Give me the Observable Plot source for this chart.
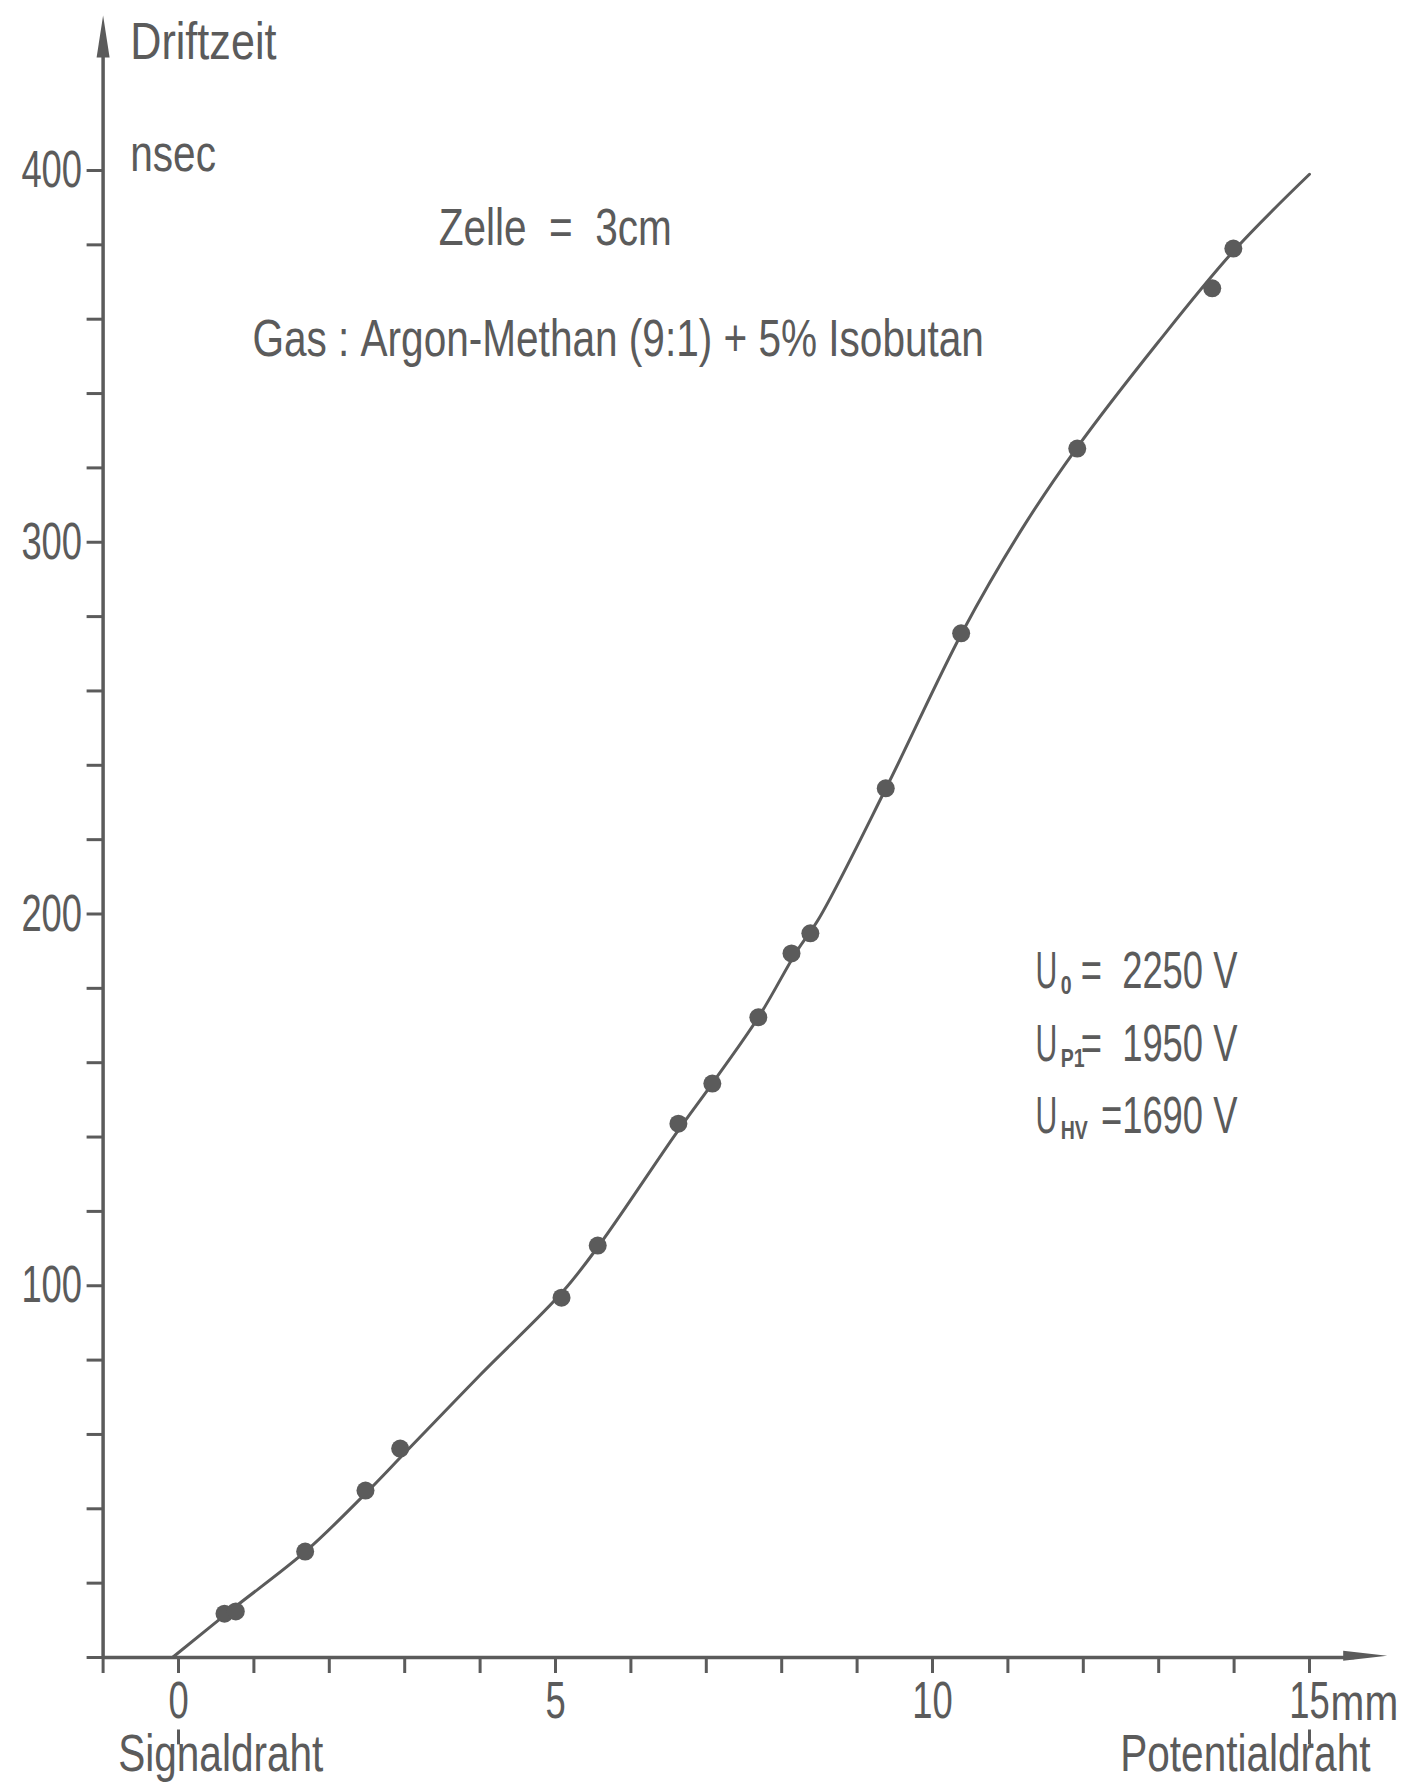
<!DOCTYPE html>
<html>
<head>
<meta charset="utf-8">
<script src="https://cdn.jsdelivr.net/npm/d3@7"></script>
<script src="https://cdn.jsdelivr.net/npm/@observablehq/plot@0.6"></script>
<style>
  html, body { margin: 0; padding: 0; background: #fff; overflow: hidden; }
  #chart svg { display: block; }
</style>
</head>
<body>
<div id="chart"></div>
<script>
// ---- measured points (distance in mm, drift time in ns) ----
const distance = [0.61, 0.76, 1.68, 2.48, 2.94, 5.08, 5.56, 6.63, 7.08, 7.69, 8.13, 8.38, 9.38, 10.38, 11.92, 13.71, 13.99];
const driftTime = [11.8, 12.4, 28.5, 44.9, 56.2, 96.8, 110.8, 143.6, 154.4, 172.2, 189.4, 194.8, 233.8, 275.5, 325.2, 368.3, 379.0];

// ---- hand-drawn fit curve ----
const curveDistance = [-0.08, 0.7, 1.7, 2.5, 3.0, 4.0, 5.1, 5.6, 6.6, 7.1, 7.7, 8.2, 8.5, 9.4, 10.4, 11.2, 11.9, 13.0, 14.0, 15.0];
const curveTime = [0, 12.8, 28.8, 44.5, 55, 76, 98.5, 111.5, 141, 155, 172.5, 190, 199, 234.5, 276, 304, 325, 354, 378.5, 399];

// ---- axes ----
const yTicks = d3.range(0, 401, 20);
const yTickLabels = [100, 200, 300, 400];
const xTicks = d3.range(-1, 16, 1);
const xTickLabels = [0, 5, 10, 15];

// ---- texts ----
const yTitle = "Driftzeit";
const yUnit = "nsec";
const xUnit = "mm";
const cellText = "Zelle\u00a0\u00a0=\u00a0\u00a03cm";
const gasText = "Gas\u00a0:\u00a0Argon-Methan\u00a0(9:1)\u00a0+\u00a05%\u00a0Isobutan";
const leftEndLabel = "Signaldraht";
const rightEndLabel = "Potentialdraht";
const voltageSymbol = ["U", "U", "U"];
const voltageSub = ["0", "P1", "HV"];
const voltageValue = ["=\u00a0\u00a02250\u00a0V", "=\u00a0\u00a01950\u00a0V", "=1690\u00a0V"];

const points = distance.map((x, i) => ({x, y: driftTime[i]}));
const curve = curveDistance.map((x, i) => ({x, y: curveTime[i]}));
const volts = voltageSub.map((s, i) => ({sym: voltageSymbol[i], sub: s, val: voltageValue[i]}));

const C = "#5b5b5b";
const FS = 52;
const voltY = [180, 160.5, 141];

const arrowUp = {draw(ctx) { ctx.moveTo(0, 0); ctx.lineTo(6.5, 42); ctx.lineTo(-6.5, 42); ctx.closePath(); }};
const arrowRight = {draw(ctx) { ctx.moveTo(0, 0); ctx.lineTo(-44, 5); ctx.lineTo(-44, -5); ctx.closePath(); }};

const txt = (arr, opts) => Plot.text(arr, {text: d => d, fill: C, fontSize: FS, textAnchor: "start", lineAnchor: "bottom", ...opts});

const chart = Plot.plot({
  width: 1413,
  height: 1782,
  marginLeft: 102.6,
  marginRight: 28.6,
  marginTop: 21.3,
  marginBottom: 125,
  x: {domain: [-1, 16]},
  y: {domain: [0, 440]},
  style: {fontFamily: "'Liberation Sans', Arial, sans-serif", color: C, background: "#fff"},
  marks: [
    Plot.axisY({ticks: yTicks, tickSize: 16, tickPadding: 5, strokeWidth: 3, fontSize: FS, label: null,
      tickFormat: d => yTickLabels.includes(d) ? String(d) : ""}),
    Plot.axisX({ticks: xTicks, tickSize: 16, tickPadding: 8, strokeWidth: 3, fontSize: FS, label: null,
      tickFormat: d => xTickLabels.includes(d) ? String(d) : ""}),
    Plot.ruleX([-1], {y1: 0, y2: 436, stroke: C, strokeWidth: 3.5}),
    Plot.ruleY([0], {x1: -1, x2: 15.6, stroke: C, strokeWidth: 3.5}),
    Plot.dot([0], {x: -1, y: 441.7, symbol: arrowUp, fill: C, stroke: "none"}),
    Plot.dot([0], {x: 16.03, y: 0.5, symbol: arrowRight, fill: C, stroke: "none"}),
    Plot.ruleX([0, 15], {y1: -19.5, y2: -23.5, stroke: C, strokeWidth: 3}),
    Plot.line(curve, {x: "x", y: "y", curve: "catmull-rom", stroke: C, strokeWidth: 3}),
    Plot.dot(points, {x: "x", y: "y", r: 9, fill: C, stroke: "none"}),
    txt([yTitle], {x: -0.64, y: 430}),
    txt([yUnit], {x: -0.64, y: 400}),
    txt([cellText], {x: 3.45, y: 380}),
    txt([gasText], {x: 0.98, y: 350}),
    txt([xUnit], {x: 15.28, y: -16.7}),
    txt([leftEndLabel], {x: -0.80, y: -30.5}),
    txt([rightEndLabel], {x: 12.49, y: -30.5}),
    Plot.text(volts, {x: 11.366, y: (d, i) => voltY[i], text: "sym", fill: C, fontSize: FS, textAnchor: "start", lineAnchor: "bottom"}),
    Plot.text(volts, {x: 11.70, y: (d, i) => voltY[i], text: "sub", dy: 6, fill: C, fontSize: 25, fontWeight: "bold", textAnchor: "start", lineAnchor: "bottom"}),
    Plot.text(volts, {x: 14.045, y: (d, i) => voltY[i], text: "val", fill: C, fontSize: FS, textAnchor: "end", lineAnchor: "bottom"})
  ]
});

// narrow lettering (stencil-like DIN style): compress glyphs horizontally about each anchor
chart.querySelectorAll("text").forEach(t => {
  const s = t.textContent;
  if (!s.trim()) return;
  const g = t.closest("g");
  let k = 0.78;
  if (g && g.getAttribute("font-size") === "25") k = 0.78;
  else if (s === "U") k = 0.58;
  else if (s === "Driftzeit") k = 0.83;
  else if (/^[\d\s\u00a0=V]+$/.test(s)) k = 0.7;
  const tr = t.getAttribute("transform") || "";
  t.setAttribute("transform", (tr + ` scale(${k},1)`).trim());
});

document.getElementById("chart").appendChild(chart);
</script>
</body>
</html>
